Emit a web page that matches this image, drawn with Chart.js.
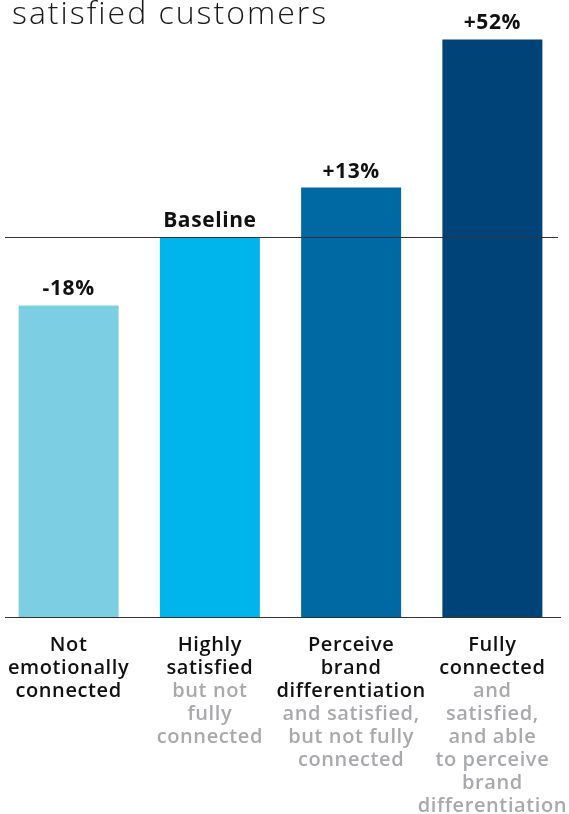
<!DOCTYPE html>
<html>
<head>
<meta charset="utf-8">
<script src="https://cdn.jsdelivr.net/npm/chart.js@4"></script>
<style>
  html, body { margin: 0; padding: 0; background: #fff; overflow: hidden; }
  #wrap { position: absolute; left: -2px; top: 0; width: 571px; height: 814px; }
</style>
</head>
<body>
<div id="wrap"><canvas id="chart"></canvas></div>
<script>
// data
const titleText = 'satisfied customers';
const categories = ['Not emotionally connected', 'Highly satisfied', 'Perceive brand differentiation', 'Fully connected'];
const mainLines = [
  ['Not', 'emotionally', 'connected'],
  ['Highly', 'satisfied'],
  ['Perceive', 'brand', 'differentiation'],
  ['Fully', 'connected']
];
const subLines = [
  [],
  ['but not', 'fully', 'connected'],
  ['and satisfied,', 'but not fully', 'connected'],
  ['and', 'satisfied,', 'and able', 'to perceive', 'brand', 'differentiation']
];
const values = [82, 100, 113, 152];   // index vs baseline = 100
const valueLabels = ['-18%', 'Baseline', '+13%', '+52%'];
const baselineValue = 100;

const barColors = ['#7ccfe3', '#00b4ec', '#0069a4', '#004379'];
const FONT = '"Open Sans", "Noto Sans", sans-serif';

const overlay = {
  id: 'overlay',
  afterDatasetsDraw(chart) {
    const ctx = chart.ctx;
    const x = chart.scales.x, y = chart.scales.y;
    const meta = chart.getDatasetMeta(0);
    ctx.save();

    // title, cut off at the top
    ctx.fillStyle = '#1a1a1a';
    ctx.font = '300 32px ' + FONT;
    ctx.letterSpacing = '2px';
    ctx.textAlign = 'left';
    ctx.textBaseline = 'alphabetic';
    ctx.fillText(titleText, 14, 24);

    // baseline rule and bottom axis
    ctx.strokeStyle = '#333';
    ctx.lineWidth = 1.2;
    const yb = Math.round(y.getPixelForValue(baselineValue)) + 0.5;
    ctx.beginPath(); ctx.moveTo(7, yb); ctx.lineTo(560, yb); ctx.stroke();
    const y0 = Math.round(y.getPixelForValue(0)) + 0.5;
    ctx.beginPath(); ctx.moveTo(7, y0); ctx.lineTo(563, y0); ctx.stroke();

    // value labels
    ctx.fillStyle = '#111';
    ctx.font = 'bold 21px ' + FONT;
    ctx.letterSpacing = '0.6px';
    ctx.textAlign = 'center';
    ctx.textBaseline = 'alphabetic';
    meta.data.forEach((bar, i) => {
      ctx.fillText(valueLabels[i], bar.x, bar.y - 10);
    });

    // category labels
    ctx.font = '600 20px ' + FONT;
    ctx.letterSpacing = '0.6px';
    categories.forEach((c, i) => {
      const cx = x.getPixelForValue(i);
      let ly = 651;
      ctx.fillStyle = '#111';
      mainLines[i].forEach(t => { ctx.fillText(t, cx, ly); ly += 23; });
      ctx.fillStyle = '#a7a9ac';
      subLines[i].forEach(t => { ctx.fillText(t, cx, ly); ly += 23; });
    });
    ctx.restore();
  }
};

new Chart(document.getElementById('chart'), {
  type: 'bar',
  data: {
    labels: categories,
    datasets: [{
      data: values,
      backgroundColor: barColors,
      borderWidth: 0,
      barPercentage: 0.708,
      categoryPercentage: 1
    }]
  },
  options: {
    responsive: true,
    maintainAspectRatio: false,
    animation: false,
    layout: { padding: { top: 9, bottom: 197, left: 0, right: 6 } },
    plugins: { legend: { display: false }, tooltip: { enabled: false }, title: { display: false } },
    scales: {
      x: { display: false },
      y: { display: false, min: 0, max: 160 }
    }
  },
  plugins: [overlay]
});
</script>
</body>
</html>
